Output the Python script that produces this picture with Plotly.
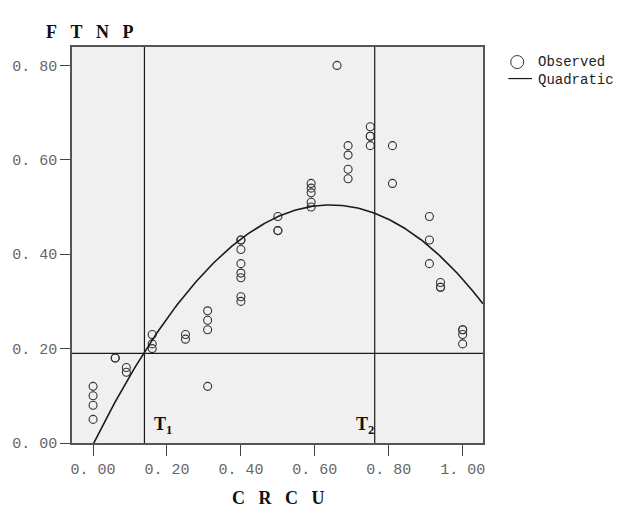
import numpy as np
import plotly.graph_objects as go

# Observed data (CRCU, FTNP)
crcu = [0.0, 0.0, 0.0, 0.0,
        0.06, 0.06,
        0.09, 0.09,
        0.16, 0.16, 0.16,
        0.25, 0.25,
        0.31, 0.31, 0.31, 0.31,
        0.40, 0.40, 0.40, 0.40, 0.40, 0.40, 0.40, 0.40,
        0.50, 0.50, 0.50,
        0.59, 0.59, 0.59, 0.59, 0.59,
        0.66,
        0.69, 0.69, 0.69, 0.69,
        0.75, 0.75, 0.75, 0.75,
        0.81, 0.81,
        0.91, 0.91, 0.91,
        0.94, 0.94, 0.94,
        1.00, 1.00, 1.00, 1.00]
ftnp = [0.12, 0.10, 0.08, 0.05,
        0.18, 0.18,
        0.16, 0.15,
        0.23, 0.21, 0.20,
        0.23, 0.22,
        0.28, 0.26, 0.24, 0.12,
        0.43, 0.43, 0.41, 0.38, 0.36, 0.35, 0.31, 0.30,
        0.48, 0.45, 0.45,
        0.55, 0.54, 0.53, 0.51, 0.50,
        0.80,
        0.63, 0.61, 0.58, 0.56,
        0.67, 0.65, 0.65, 0.63,
        0.63, 0.55,
        0.48, 0.43, 0.38,
        0.34, 0.33, 0.33,
        0.24, 0.24, 0.23, 0.21]

# Quadratic fit coefficients: y = a + b x + c x^2
quad_coef = [-0.003, 1.58, -1.23]
curve_x_range = [0.0, 1.055]

# Threshold lines
t1_x = 0.139
t2_x = 0.762
h_y = 0.19

x_ticks = [0.0, 0.2, 0.4, 0.6, 0.8, 1.0]
x_ticktext = ["0. 00", "0. 20", "0. 40", "0. 60", "0. 80", "1. 00"]
y_ticks = [0.0, 0.2, 0.4, 0.6, 0.8]
y_ticktext = ["0. 00", "0. 20", "0. 40", "0. 60", "0. 80"]

y_title = ["F", "T", "N", "P"]
x_title = ["C", "R", "C", "U"]

xr = [-0.057, 1.055]
yr = [0.0, 0.839]

cx = np.linspace(curve_x_range[0], curve_x_range[1], 200)
cy = quad_coef[0] + quad_coef[1] * cx + quad_coef[2] * cx ** 2

fig = go.Figure()
fig.add_trace(go.Scatter(x=crcu, y=ftnp, mode="markers",
                         marker=dict(symbol="circle-open", size=8,
                                     color="#333333", line=dict(width=1.1)),
                         showlegend=False, hoverinfo="skip"))
fig.add_trace(go.Scatter(x=cx, y=cy, mode="lines",
                         line=dict(color="#1a1a1a", width=1.6),
                         showlegend=False, hoverinfo="skip"))

shapes = [
    dict(type="line", xref="x", yref="paper", x0=t1_x, x1=t1_x, y0=0, y1=1,
         line=dict(color="#1a1a1a", width=1.2)),
    dict(type="line", xref="x", yref="paper", x0=t2_x, x1=t2_x, y0=0, y1=1,
         line=dict(color="#1a1a1a", width=1.2)),
    dict(type="line", xref="paper", yref="y", x0=0, x1=1, y0=h_y, y1=h_y,
         line=dict(color="#1a1a1a", width=1.2)),
    # legend symbols
    dict(type="circle", xref="paper", yref="paper", xsizemode="pixel", ysizemode="pixel",
         xanchor=1.0833, yanchor=0.962, x0=-6.5, x1=6.5, y0=-6.5, y1=6.5,
         line=dict(color="#333333", width=1)),
    dict(type="line", xref="paper", yref="paper", x0=1.0617, x1=1.1193,
         y0=0.9203, y1=0.9203, line=dict(color="#1a1a1a", width=1.2)),
]

mono = "Liberation Mono"
serif = "Liberation Serif"
gap = "\u2002\u00a0"
annotations = [
    dict(text="Observed", xref="paper", yref="paper", x=1.128, y=0.9614,
         xanchor="left", yanchor="middle", showarrow=False,
         font=dict(family=mono, size=14, color="#222222")),
    dict(text="Quadratic", xref="paper", yref="paper", x=1.128, y=0.916,
         xanchor="left", yanchor="middle", showarrow=False,
         font=dict(family=mono, size=14, color="#222222")),
    dict(text="<b>" + gap.join(y_title) + "</b>", xref="paper", yref="paper",
         x=0.044, y=1.037, xanchor="center", yanchor="middle", showarrow=False,
         font=dict(family=serif, size=18, color="#111111")),
    dict(text="<b>" + gap.join(x_title) + "</b>", xref="paper", yref="paper",
         x=0.5024, y=-0.138, xanchor="center", yanchor="middle", showarrow=False,
         font=dict(family=serif, size=18, color="#111111")),
    dict(text="<b>T<sub>1</sub></b>", xref="x", yref="y", x=0.19, y=0.037,
         xanchor="center", yanchor="middle", showarrow=False,
         font=dict(family=serif, size=18, color="#111111")),
    dict(text="<b>T<sub>2</sub></b>", xref="x", yref="y", x=0.737, y=0.037,
         xanchor="center", yanchor="middle", showarrow=False,
         font=dict(family=serif, size=18, color="#111111")),
]

fig.update_layout(
    width=620, height=517,
    margin=dict(l=67, r=137, t=47, b=74),
    paper_bgcolor="white",
    plot_bgcolor="#f0f0f0",
    shapes=shapes,
    annotations=annotations,
    xaxis=dict(range=xr, tickvals=x_ticks, ticktext=x_ticktext,
               ticks="outside", ticklen=11, tickcolor="#444444", tickwidth=1.2,
               showline=True, linecolor="#555555", linewidth=1.5, mirror=True,
               showgrid=False, zeroline=False,
               tickfont=dict(family=mono, size=15, color="#666666")),
    yaxis=dict(range=yr, tickvals=y_ticks, ticktext=y_ticktext,
               ticks="outside", ticklen=10, tickcolor="#444444", tickwidth=1.2,
               showline=True, linecolor="#555555", linewidth=1.5, mirror=True,
               showgrid=False, zeroline=False,
               tickfont=dict(family=mono, size=15, color="#666666")),
)

fig.write_html("out.html")
